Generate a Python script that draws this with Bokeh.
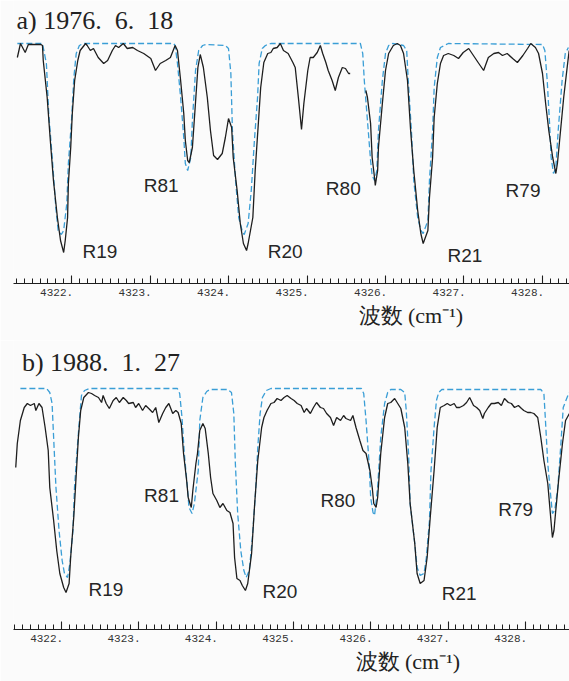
from bokeh.plotting import figure
from bokeh.layouts import column
from bokeh.models import Range1d, LinearAxis, SingleIntervalTicker, PrintfTickFormatter, Label, Title
from bokeh.core.properties import value
from bokeh.embed import file_html
from bokeh.resources import INLINE

nan = float("nan")

# ---------------- data (wavenumber cm^-1, relative intensity) ----------------
TITLE_A = "a) 1976.\u20026.\u200218"
TITLE_B = "b) 1988.\u20021.\u200227"
X_TITLE = "波数 (cm\u207b\u00b9)"

LINE_NAMES = ["R19", "R81", "R20", "R80", "R21", "R79"]
A_LABEL_W = [4322.14, 4322.92, 4324.50, 4325.24, 4326.79, 4327.53]
A_LABEL_T = [0.168, 0.432, 0.168, 0.422, 0.152, 0.414]
B_LABEL_W = [4322.35, 4323.07, 4324.60, 4325.35, 4326.92, 4327.65]
B_LABEL_T = [0.196, 0.572, 0.188, 0.552, 0.180, 0.516]

A_OBS = [(4321.31,0.944),(4321.35,1.000),(4321.41,0.964),(4321.45,0.996),(4321.52,0.996),(4321.61,0.996),
         (4321.63,0.992),(4321.64,0.932),(4321.69,0.784),(4321.73,0.612),(4321.77,0.452),(4321.82,0.304),
         (4321.86,0.212),(4321.90,0.164),(4321.92,0.212),(4321.95,0.304),(4321.96,0.440),(4321.99,0.584),
         (4322.01,0.720),(4322.04,0.852),(4322.08,0.932),(4322.11,0.972),(4322.18,1.000),(4322.20,0.992),
         (4322.24,0.972),(4322.28,0.980),(4322.34,0.944),(4322.41,0.920),(4322.46,0.932),(4322.52,0.972),
         (4322.56,0.992),(4322.60,0.984),(4322.66,1.000),(4322.71,0.980),(4322.78,0.984),(4322.84,0.972),
         (4322.92,0.960),(4323.01,0.940),(4323.07,0.892),(4323.13,0.920),(4323.20,0.932),(4323.26,0.944),
         (4323.32,0.992),(4323.35,0.972),(4323.39,0.852),(4323.43,0.720),(4323.45,0.612),(4323.48,0.532),
         (4323.50,0.524),(4323.54,0.584),(4323.57,0.720),(4323.61,0.904),(4323.64,0.956),(4323.68,0.904),
         (4323.73,0.784),(4323.77,0.652),(4323.81,0.552),(4323.86,0.536),(4323.92,0.560),(4323.96,0.624),
         (4324.00,0.700),(4324.04,0.664),(4324.06,0.544),(4324.11,0.412),(4324.15,0.280),(4324.19,0.200),
         (4324.23,0.172),(4324.25,0.200),(4324.31,0.304),(4324.34,0.492),(4324.38,0.680),(4324.41,0.824),
         (4324.45,0.924),(4324.50,0.960),(4324.54,0.964),(4324.57,0.980),(4324.62,0.984),(4324.66,1.000),
         (4324.70,0.972),(4324.76,0.960),(4324.82,0.924),(4324.85,0.904),(4324.89,0.784),(4324.93,0.656),
         (4324.96,0.760),(4325.01,0.892),(4325.04,0.944),(4325.08,0.944),(4325.13,0.964),(4325.17,0.992),
         (4325.20,0.960),(4325.24,0.924),(4325.27,0.892),(4325.32,0.852),(4325.36,0.812),(4325.40,0.864),
         (4325.45,0.904),(4325.49,0.900),(4325.53,0.880),(4325.55,0.880),(nan,nan),
         (4325.75,0.812),(4325.77,0.784),(4325.81,0.680),(4325.83,0.544),(4325.86,0.464),(4325.87,0.432),
         (4325.90,0.492),(4325.91,0.584),(4325.96,0.760),(4326.00,0.892),(4326.04,0.960),(4326.10,0.992),
         (4326.15,1.000),(4326.19,0.992),(4326.23,0.960),(4326.28,0.852),(4326.32,0.652),(4326.36,0.492),
         (4326.41,0.332),(4326.45,0.240),(4326.48,0.200),(4326.54,0.252),(4326.56,0.384),(4326.60,0.544),
         (4326.62,0.704),(4326.66,0.840),(4326.70,0.920),(4326.74,0.952),(4326.80,0.960),(4326.87,0.952),
         (4326.93,0.940),(4326.99,0.964),(4327.06,0.980),(4327.12,0.952),(4327.18,0.924),(4327.25,0.892),
         (4327.31,0.944),(4327.38,0.960),(4327.44,0.964),(4327.49,0.952),(4327.55,0.960),(4327.62,0.940),
         (4327.68,0.924),(4327.75,0.952),(4327.81,0.980),(4327.85,1.000),(4327.91,0.984),(4327.95,0.960),
         (4328.00,0.880),(4328.04,0.760),(4328.08,0.652),(4328.13,0.544),(4328.17,0.480),(4328.19,0.520),
         (4328.23,0.652),(4328.27,0.784),(4328.32,0.920),(4328.34,0.972)]

A_MODEL = [(4321.31,1.000),(4321.63,1.000),(4321.64,0.984),(4321.68,0.920),(4321.71,0.720),(4321.76,0.520),
           (4321.80,0.344),(4321.83,0.252),(4321.87,0.236),(4321.90,0.252),(4321.94,0.360),(4321.96,0.520),
           (4322.00,0.692),(4322.03,0.864),(4322.06,0.960),(4322.10,0.992),(4322.15,1.000),(4323.30,1.000),
           (4323.32,0.992),(4323.35,0.920),(4323.39,0.784),(4323.43,0.624),(4323.45,0.520),(4323.48,0.492),
           (4323.52,0.544),(4323.54,0.692),(4323.58,0.892),(4323.62,0.972),(4323.67,0.992),(4323.71,0.996),
           (4323.96,0.992),(4324.00,0.980),(4324.03,0.880),(4324.05,0.652),(4324.09,0.452),(4324.13,0.304),
           (4324.18,0.244),(4324.20,0.236),(4324.25,0.280),(4324.29,0.412),(4324.33,0.612),(4324.37,0.784),
           (4324.39,0.920),(4324.43,0.980),(4324.47,0.992),(4324.54,1.000),(4325.68,1.000),(4325.71,0.960),
           (4325.73,0.852),(4325.77,0.692),(4325.81,0.532),(4325.83,0.472),(4325.86,0.452),(4325.89,0.492),
           (4325.91,0.652),(4325.96,0.852),(4326.00,0.960),(4326.04,0.992),(4326.09,1.000),(4326.23,0.992),
           (4326.27,0.972),(4326.29,0.852),(4326.33,0.652),(4326.36,0.452),(4326.41,0.304),(4326.45,0.252),
           (4326.48,0.240),(4326.54,0.292),(4326.56,0.452),(4326.60,0.652),(4326.62,0.824),(4326.66,0.944),
           (4326.70,0.984),(4326.75,0.992),(4326.80,1.000),(4328.00,0.996),(4328.03,0.972),(4328.06,0.852),
           (4328.09,0.680),(4328.11,0.544),(4328.14,0.480),(4328.17,0.504),(4328.20,0.652),(4328.25,0.852),
           (4328.29,0.960),(4328.33,0.984)]

B_OBS = [(4321.41,0.684),(4321.43,0.780),(4321.47,0.872),(4321.52,0.924),(4321.56,0.940),(4321.60,0.932),
         (4321.65,0.940),(4321.67,0.912),(4321.71,0.940),(4321.75,0.924),(4321.79,0.844),(4321.83,0.752),
         (4321.85,0.604),(4321.90,0.472),(4321.94,0.352),(4321.98,0.260),(4322.03,0.204),(4322.06,0.184),
         (4322.10,0.220),(4322.12,0.324),(4322.16,0.484),(4322.19,0.644),(4322.22,0.804),(4322.25,0.912),
         (4322.29,0.964),(4322.35,0.984),(4322.39,0.980),(4322.43,0.972),(4322.48,0.964),(4322.52,0.944),
         (4322.54,0.972),(4322.58,0.940),(4322.62,0.920),(4322.67,0.952),(4322.71,0.964),(4322.75,0.944),
         (4322.80,0.964),(4322.84,0.952),(4322.87,0.940),(4322.93,0.944),(4322.96,0.924),(4323.00,0.940),
         (4323.05,0.912),(4323.09,0.932),(4323.13,0.920),(4323.18,0.904),(4323.22,0.924),(4323.26,0.864),
         (4323.31,0.900),(4323.35,0.924),(4323.39,0.940),(4323.44,0.900),(4323.48,0.912),(4323.51,0.904),
         (4323.55,0.860),(4323.58,0.740),(4323.62,0.632),(4323.64,0.564),(4323.68,0.524),(4323.70,0.592),
         (4323.74,0.700),(4323.76,0.740),(4323.79,0.832),(4323.83,0.860),(4323.86,0.840),(4323.90,0.740),
         (4323.93,0.644),(4323.96,0.580),(4324.01,0.552),(4324.05,0.524),(4324.09,0.540),(4324.14,0.512),
         (4324.18,0.504),(4324.22,0.460),(4324.24,0.324),(4324.27,0.240),(4324.31,0.232),(4324.34,0.212),
         (4324.38,0.192),(4324.41,0.220),(4324.46,0.340),(4324.50,0.540),(4324.54,0.712),(4324.59,0.844),
         (4324.62,0.884),(4324.66,0.912),(4324.71,0.940),(4324.75,0.944),(4324.79,0.960),(4324.84,0.952),
         (4324.88,0.964),(4324.92,0.972),(4324.97,0.960),(4325.01,0.952),(4325.05,0.940),(4325.10,0.932),
         (4325.14,0.904),(4325.17,0.920),(4325.22,0.900),(4325.26,0.924),(4325.30,0.944),(4325.35,0.924),
         (4325.39,0.920),(4325.43,0.900),(4325.48,0.884),(4325.52,0.852),(4325.56,0.884),(4325.61,0.872),
         (4325.65,0.892),(4325.68,0.880),(4325.74,0.872),(4325.77,0.892),(4325.81,0.844),(4325.86,0.792),
         (4325.90,0.752),(4325.94,0.740),(4325.99,0.672),(4326.02,0.604),(4326.04,0.540),(4326.07,0.524),
         (4326.09,0.564),(4326.13,0.740),(4326.18,0.884),(4326.22,0.940),(4326.26,0.944),(4326.31,0.960),
         (4326.35,0.940),(4326.39,0.920),(4326.44,0.844),(4326.48,0.700),(4326.51,0.540),(4326.57,0.380),
         (4326.60,0.260),(4326.64,0.220),(4326.69,0.232),(4326.73,0.324),(4326.77,0.484),(4326.82,0.672),
         (4326.86,0.844),(4326.90,0.924),(4326.95,0.932),(4326.99,0.940),(4327.03,0.932),(4327.08,0.940),
         (4327.11,0.924),(4327.15,0.924),(4327.20,0.932),(4327.24,0.944),(4327.28,0.964),(4327.33,0.932),
         (4327.37,0.924),(4327.41,0.912),(4327.45,0.880),(4327.47,0.900),(4327.52,0.924),(4327.56,0.940),
         (4327.60,0.940),(4327.65,0.944),(4327.69,0.932),(4327.73,0.960),(4327.78,0.944),(4327.82,0.940),
         (4327.86,0.924),(4327.91,0.932),(4327.95,0.920),(4327.98,0.912),(4328.03,0.904),(4328.07,0.904),
         (4328.11,0.900),(4328.16,0.884),(4328.20,0.804),(4328.24,0.712),(4328.29,0.620),(4328.32,0.512),
         (4328.35,0.404),(4328.37,0.432),(4328.39,0.500),(4328.43,0.632),(4328.48,0.780),(4328.52,0.872),
         (4328.57,0.900)]

B_MODEL = [(4321.47,1.000),(4321.81,1.000),(4321.85,0.984),(4321.88,0.940),(4321.90,0.804),(4321.93,0.604),
           (4321.97,0.432),(4322.01,0.312),(4322.04,0.260),(4322.08,0.244),(4322.11,0.300),(4322.15,0.432),
           (4322.17,0.604),(4322.21,0.780),(4322.24,0.900),(4322.26,0.972),(4322.30,0.992),(4322.36,1.000),
           (4323.50,1.000),(4323.53,0.980),(4323.56,0.884),(4323.59,0.740),(4323.63,0.604),(4323.65,0.524),
           (4323.69,0.500),(4323.72,0.540),(4323.77,0.672),(4323.79,0.872),(4323.83,0.964),(4323.88,0.988),
           (4323.92,0.996),(4324.15,0.996),(4324.20,0.984),(4324.23,0.900),(4324.25,0.700),(4324.28,0.500),
           (4324.32,0.352),(4324.36,0.272),(4324.39,0.244),(4324.43,0.272),(4324.47,0.404),(4324.51,0.580),
           (4324.54,0.764),(4324.57,0.900),(4324.60,0.964),(4324.65,0.992),(4324.71,1.000),(4325.88,1.000),
           (4325.91,0.980),(4325.94,0.872),(4325.98,0.700),(4326.00,0.564),(4326.03,0.504),(4326.05,0.492),
           (4326.09,0.604),(4326.13,0.804),(4326.18,0.940),(4326.22,0.984),(4326.26,0.996),(4326.39,0.996),
           (4326.44,0.984),(4326.46,0.912),(4326.49,0.740),(4326.51,0.540),(4326.57,0.380),(4326.60,0.284),
           (4326.64,0.252),(4326.69,0.260),(4326.72,0.324),(4326.76,0.472),(4326.78,0.672),(4326.82,0.844),
           (4326.85,0.952),(4326.88,0.984),(4326.92,0.996),(4328.20,0.996),(4328.24,0.980),(4328.26,0.872),
           (4328.29,0.700),(4328.33,0.564),(4328.35,0.500),(4328.38,0.512),(4328.42,0.604),(4328.46,0.780),
           (4328.49,0.924),(4328.55,0.972),(4328.57,0.984)]

# ---------------- styling ----------------
INK = "#1e1e1e"
BLUE = "#3a9ed6"
BG = "#fbfbfb"
SERIF = "Liberation Serif"
LINE_FONT = "Liberation Sans"
TICK_FONT = "Liberation Mono"


def make_panel(height, xr, yr, border_left, border_bottom, label_shift,
               obs, model, title, title_xy, lab_w, lab_t, xtitle_offset):
    p = figure(width=569, height=height, x_range=Range1d(*xr), y_range=Range1d(*yr),
               x_axis_type=None, y_axis_type=None, toolbar_location=None,
               output_backend="svg", min_border_left=border_left, min_border_right=0,
               min_border_top=0, min_border_bottom=border_bottom,
               background_fill_color=BG, border_fill_color=BG, outline_line_color=None)
    p.extra_x_ranges = {"lab": Range1d(xr[0] + label_shift, xr[1] + label_shift)}

    ticks = LinearAxis(ticker=SingleIntervalTicker(interval=1, num_minor_ticks=10),
                       axis_line_color=INK, axis_line_width=1.1,
                       major_tick_in=8, major_tick_out=0, minor_tick_in=5, minor_tick_out=0,
                       major_tick_line_color=INK, minor_tick_line_color=INK,
                       major_tick_line_width=1.1, minor_tick_line_width=1,
                       major_label_overrides={v: "" for v in range(4319, 4332)},
                       major_label_text_font_size="1px", major_label_text_color=None,
                       major_label_standoff=0)
    p.add_layout(ticks, "below")
    labels = LinearAxis(x_range_name="lab", ticker=SingleIntervalTicker(interval=1, num_minor_ticks=0),
                        formatter=PrintfTickFormatter(format="%d."),
                        axis_line_color=None, major_tick_line_color=None, minor_tick_line_color=None,
                        major_tick_in=0, major_tick_out=0, minor_tick_in=0, minor_tick_out=0,
                        major_label_standoff=5, major_label_text_font=TICK_FONT,
                        major_label_text_font_size="11px", major_label_text_color="#333333")
    p.add_layout(labels, "below")
    p.add_layout(Title(text=X_TITLE, align="left", offset=xtitle_offset, standoff=5,
                       text_font=SERIF, text_font_size="22px", text_font_style="normal",
                       text_color="#222222"), "below")

    mx = [w for w, t in model]
    my = [t for w, t in model]
    p.line(mx, my, line_color=BLUE, line_width=1.3, line_dash="6 3")
    ox = [w for w, t in obs]
    oy = [t for w, t in obs]
    p.line(ox, oy, line_color=INK, line_width=1.3)

    p.text(x=lab_w, y=lab_t, text=LINE_NAMES, text_font=value(LINE_FONT),
           text_font_size=value("19px"), text_color="#262626",
           text_align="left", text_baseline="middle")

    p.add_layout(Label(x=title_xy[0], y=title_xy[1], text=title, text_font=SERIF,
                       text_font_size="26px", text_color="#222222",
                       text_align="left", text_baseline="middle"))
    return p


pa = make_panel(340, (4321.261, 4328.344), (0.04, 1.172), 13, 57, 0.19,
                A_OBS, A_MODEL, TITLE_A, (4321.30, 1.092), A_LABEL_W, A_LABEL_T, 345)
pb = make_panel(341, (4321.381, 4328.571), (0.036, 1.192), 6, 52, 0.19,
                B_OBS, B_MODEL, TITLE_B, (4321.49, 1.104), B_LABEL_W, B_LABEL_T, 342)

layout = column(pa, pb)
open("out.html", "w").write(file_html(layout, INLINE))
